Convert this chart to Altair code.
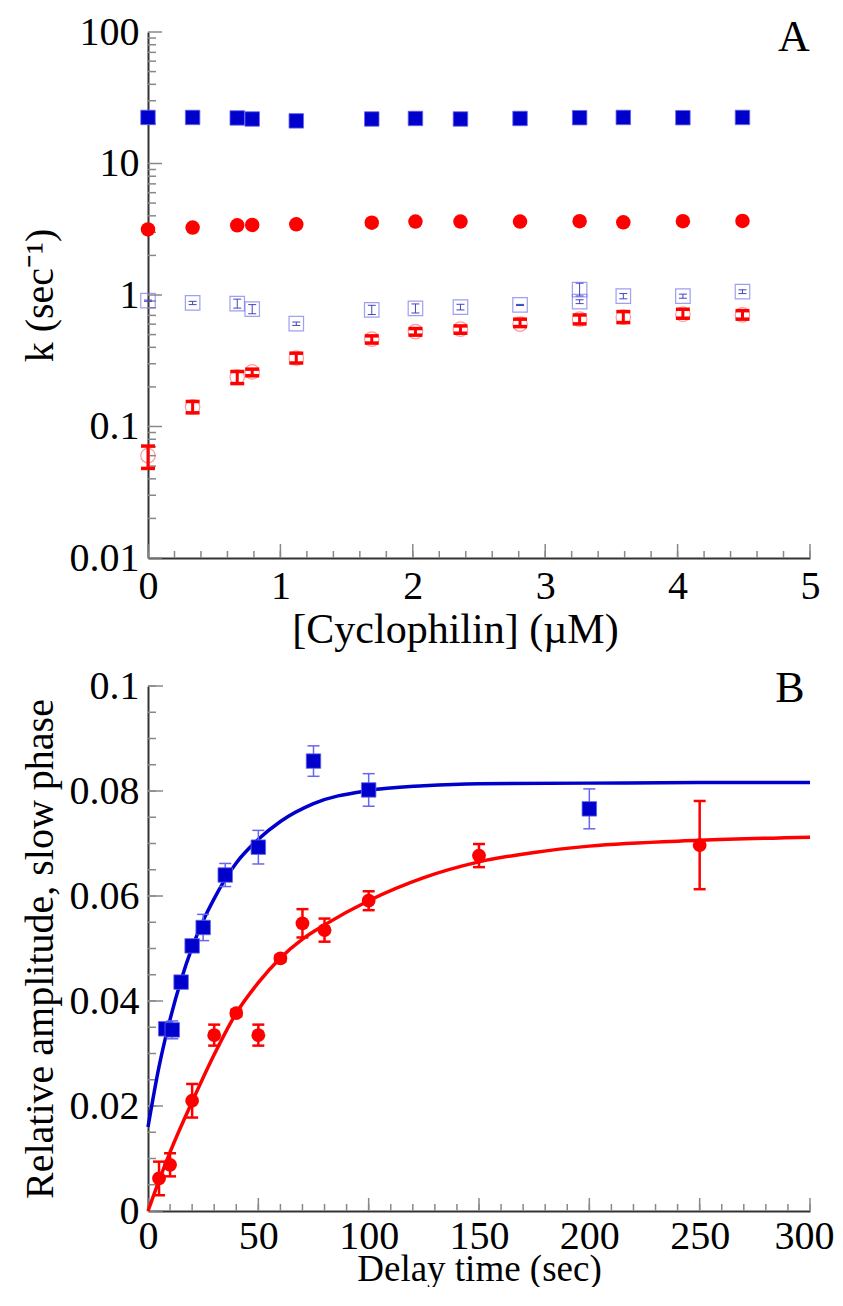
import altair as alt
import pandas as pd

# ---------------- Panel A data ----------------
cyp = [0.0, 0.337, 0.674, 0.787, 1.12, 1.69, 2.02, 2.36, 2.81, 3.26, 3.59, 4.04, 4.49]
k_fast_blue = [22.4, 22.4, 22.2, 21.8, 21.1, 21.8, 22.0, 21.8, 22.0, 22.3, 22.4, 22.3, 22.4]
k_fast_red = [3.15, 3.26, 3.39, 3.41, 3.45, 3.55, 3.62, 3.62, 3.62, 3.64, 3.57, 3.64, 3.66]

cyp_sq = [0.0, 0.337, 0.674, 0.787, 1.12, 1.69, 2.02, 2.36, 2.81, 3.26, 3.59, 4.04, 4.49, 3.26]
k_slow_blue = [0.905, 0.87, 0.86, 0.78, 0.605, 0.77, 0.79, 0.81, 0.84, 0.89, 0.98, 0.98, 1.06, 1.10]
k_slow_blue_lo = [0.895, 0.845, 0.795, 0.72, 0.587, 0.71, 0.73, 0.77, 0.832, 0.86, 0.935, 0.945, 1.025, 0.983]
k_slow_blue_hi = [0.915, 0.895, 0.93, 0.845, 0.623, 0.835, 0.855, 0.85, 0.848, 0.92, 1.025, 1.015, 1.095, 1.23]

k_slow_red = [0.060, 0.141, 0.238, 0.26, 0.331, 0.462, 0.527, 0.55, 0.60, 0.655, 0.678, 0.714, 0.705]
k_slow_red_lo = [0.048, 0.127, 0.212, 0.243, 0.304, 0.431, 0.495, 0.512, 0.575, 0.603, 0.617, 0.666, 0.655]
k_slow_red_hi = [0.071, 0.155, 0.262, 0.273, 0.361, 0.489, 0.556, 0.582, 0.655, 0.705, 0.748, 0.779, 0.76]

# ---------------- Panel B data ----------------
t_blue = [8, 11, 15, 20, 25, 35, 50, 75, 100, 200]
amp_blue = [0.0347, 0.0345, 0.0436, 0.0505, 0.0540, 0.0640, 0.0693, 0.0857, 0.0802, 0.0766]
amp_blue_err = [0.0010, 0.0017, 0.0008, 0.0008, 0.0025, 0.0022, 0.0032, 0.0029, 0.0031, 0.0038]

t_red = [5, 10, 20, 30, 40, 50, 60, 70, 80, 100, 150, 250]
amp_red = [0.0062, 0.0088, 0.0210, 0.0335, 0.0377, 0.0335, 0.0481, 0.0548, 0.0535, 0.0591, 0.0677, 0.0697]
amp_red_err = [0.0032, 0.0022, 0.0032, 0.0020, 0.0006, 0.0020, 0.0006, 0.0027, 0.0022, 0.0018, 0.0022, 0.0084]

fit_t_blue = [0, 5, 10, 15, 20, 25, 30, 35, 40, 50, 60, 75, 100, 125, 150, 200, 250, 300]
fit_blue = [0.0160, 0.0275, 0.0365, 0.0440, 0.0502, 0.0553, 0.0595, 0.0632, 0.0663, 0.0708,
            0.0742, 0.0776, 0.0801, 0.0810, 0.0814, 0.0815, 0.0816, 0.0816]
fit_t_red = [0, 5, 10, 20, 30, 40, 50, 60, 70, 80, 100, 125, 150, 175, 200, 250, 300]
fit_red = [0.0, 0.0058, 0.0112, 0.0208, 0.0298, 0.0377, 0.0435, 0.0482, 0.0518, 0.0545,
           0.0591, 0.0635, 0.0665, 0.0683, 0.0695, 0.0706, 0.0712]

# axis tick positions
a_y_major = [0.01, 0.1, 1, 10, 100]
a_y_minor = [m * 10.0 ** e for e in (-2, -1, 0, 1) for m in range(2, 10)]
a_x_major = [0, 1, 2, 3, 4, 5]
a_x_minor = [i * 0.2 for i in range(26)]
b_y_major = [0, 0.02, 0.04, 0.06, 0.08, 0.1]
b_y_minor = [i * 0.005 for i in range(21)]
b_x_major = [0, 50, 100, 150, 200, 250, 300]
b_x_minor = [i * 10 for i in range(31)]

letters = ["A", "B"]

FONT = "Liberation Serif"
W = 662
HA = 526
HB = 525
BLUE = "#0000CC"
RED = "#FF0000"
TICKC = "#888888"


def axis(values, title, orient, fmt="~g", tsize=40, lpad=9, **kw):
    return alt.Axis(values=values, format=fmt, ticks=False, grid=False, domainColor="#333333",
                    domainWidth=2, labelFont=FONT, labelFontSize=40, labelColor="black",
                    labelPadding=lpad, labelOverlap=False, labelFlush=False, title=title,
                    titleFont=FONT, titleFontSize=tsize, titleFontWeight="normal", titleColor="black",
                    titleBaseline="alphabetic", orient=orient, **kw)


# ---------------- Panel A ----------------
xsA = alt.Scale(domain=[0, 5], nice=False, zero=False)
ysA = alt.Scale(type="log", domain=[0.01, 100], nice=False)
xaxA = axis(a_x_major, "[Cyclophilin] (\u00b5M)", "bottom", tsize=42, lpad=8, titleY=84, titleX=307)
yaxA = axis(a_y_major, "k (sec\u207b\u00b9)", "left", titleX=-96)


def XA(f):
    return alt.X(f + ":Q", scale=xsA, axis=xaxA)


def YA(f):
    return alt.Y(f + ":Q", scale=ysA, axis=yaxA)


dfA_fast = pd.DataFrame({"x": cyp, "kb": k_fast_blue, "kr": k_fast_red,
                         "ks": k_slow_red, "lo": k_slow_red_lo, "hi": k_slow_red_hi})
dfA_sq = pd.DataFrame({"x": cyp_sq, "k": k_slow_blue, "lo": k_slow_blue_lo, "hi": k_slow_blue_hi})

tA_ymaj = alt.Chart(pd.DataFrame({"v": a_y_major})).mark_rule(color=TICKC, strokeWidth=1.5).encode(
    y=YA("v"), x=alt.value(0), x2=alt.value(14))
tA_ymin = alt.Chart(pd.DataFrame({"v": a_y_minor})).mark_rule(color=TICKC, strokeWidth=1.5).encode(
    y=YA("v"), x=alt.value(0), x2=alt.value(8))
tA_xmin = alt.Chart(pd.DataFrame({"v": a_x_minor})).mark_rule(color=TICKC, strokeWidth=1.5).encode(
    x=XA("v"), y=alt.value(HA), y2=alt.value(HA - 7))
tA_xmaj = alt.Chart(pd.DataFrame({"v": a_x_major})).mark_rule(color=TICKC, strokeWidth=1.5).encode(
    x=XA("v"), y=alt.value(HA), y2=alt.value(HA - 14))

base_fast = alt.Chart(dfA_fast)
red_open = base_fast.mark_point(shape="circle", size=210, filled=False, color="#FF7070",
                                strokeWidth=1.2).encode(x=XA("x"), y=YA("ks"))
red_err = base_fast.mark_rule(color=RED, strokeWidth=3).encode(x=XA("x"), y=YA("lo"), y2="hi")
red_cap_lo = base_fast.mark_rule(color=RED, strokeWidth=3.5, xOffset=-7, x2Offset=7).encode(
    x=XA("x"), x2="x", y=YA("lo"))
red_cap_hi = base_fast.mark_rule(color=RED, strokeWidth=3.5, xOffset=-7, x2Offset=7).encode(
    x=XA("x"), x2="x", y=YA("hi"))

base_sq = alt.Chart(dfA_sq)
sq_open = base_sq.mark_point(shape="square", size=210, filled=False, color="#7777EE",
                             strokeWidth=1.2).encode(x=XA("x"), y=YA("k"))
sq_err = base_sq.mark_rule(color="#4444BB", strokeWidth=1).encode(x=XA("x"), y=YA("lo"), y2="hi")
sq_cap_lo = base_sq.mark_rule(color="#4444BB", strokeWidth=1, xOffset=-4, x2Offset=4).encode(
    x=XA("x"), x2="x", y=YA("lo"))
sq_cap_hi = base_sq.mark_rule(color="#4444BB", strokeWidth=1, xOffset=-4, x2Offset=4).encode(
    x=XA("x"), x2="x", y=YA("hi"))

red_fill = base_fast.mark_point(shape="circle", size=210, filled=True, color=RED, opacity=1).encode(
    x=XA("x"), y=YA("kr"))
blue_fill = base_fast.mark_point(shape="square", size=210, filled=True, color=BLUE, opacity=1,
                                 stroke="#6666EE", strokeWidth=0.8).encode(x=XA("x"), y=YA("kb"))

letterA = alt.Chart(pd.DataFrame({"l": [letters[0]]})).mark_text(
    font=FONT, fontSize=44, align="center", baseline="alphabetic", color="black").encode(
    text="l:N", x=alt.value(646), y=alt.value(19))

panelA = alt.layer(tA_ymaj, tA_ymin, tA_xmin, tA_xmaj, red_open, red_err, red_cap_lo, red_cap_hi,
                   sq_open, sq_err, sq_cap_lo, sq_cap_hi, red_fill, blue_fill, letterA).properties(
    width=W, height=HA)

# ---------------- Panel B ----------------
xsB = alt.Scale(domain=[0, 300], nice=False, zero=False)
ysB = alt.Scale(domain=[0, 0.1], nice=False)
xaxB = axis(b_x_major, "Delay time (sec)", "bottom", fmt="d", tsize=37, lpad=5, titleY=69,
            labelOffset={"expr": "datum.value == 300 ? -6 : 0"})
yaxB = axis(b_y_major, "Relative amplitude, slow phase", "left", titleX=-96)


def XB(f):
    return alt.X(f + ":Q", scale=xsB, axis=xaxB)


def YB(f):
    return alt.Y(f + ":Q", scale=ysB, axis=yaxB)


dfB_blue = pd.DataFrame({"t": t_blue, "a": amp_blue,
                         "lo": [a - e for a, e in zip(amp_blue, amp_blue_err)],
                         "hi": [a + e for a, e in zip(amp_blue, amp_blue_err)]})
dfB_red = pd.DataFrame({"t": t_red, "a": amp_red,
                        "lo": [a - e for a, e in zip(amp_red, amp_red_err)],
                        "hi": [a + e for a, e in zip(amp_red, amp_red_err)]})
dfB_fitb = pd.DataFrame({"t": fit_t_blue, "a": fit_blue})
dfB_fitr = pd.DataFrame({"t": fit_t_red, "a": fit_red})

tB_ymaj = alt.Chart(pd.DataFrame({"v": b_y_major})).mark_rule(color=TICKC, strokeWidth=1.5).encode(
    y=YB("v"), x=alt.value(0), x2=alt.value(15))
tB_ymin = alt.Chart(pd.DataFrame({"v": b_y_minor})).mark_rule(color=TICKC, strokeWidth=1.5).encode(
    y=YB("v"), x=alt.value(0), x2=alt.value(8))
tB_xmin = alt.Chart(pd.DataFrame({"v": b_x_minor})).mark_rule(color=TICKC, strokeWidth=1.5).encode(
    x=XB("v"), y=alt.value(HB), y2=alt.value(HB - 7))
tB_xmaj = alt.Chart(pd.DataFrame({"v": b_x_major})).mark_rule(color=TICKC, strokeWidth=1.5).encode(
    x=XB("v"), y=alt.value(HB), y2=alt.value(HB - 13))

fitb = alt.Chart(dfB_fitb).mark_line(color=BLUE, strokeWidth=3.5, interpolate="monotone").encode(
    x=XB("t"), y=YB("a"))
fitr = alt.Chart(dfB_fitr).mark_line(color=RED, strokeWidth=3.5, interpolate="monotone").encode(
    x=XB("t"), y=YB("a"))

bb = alt.Chart(dfB_blue)
b_err = bb.mark_rule(color="#6666EE", strokeWidth=1.5).encode(x=XB("t"), y=YB("lo"), y2="hi")
b_cap1 = bb.mark_rule(color="#6666EE", strokeWidth=1.5, xOffset=-6, x2Offset=6).encode(
    x=XB("t"), x2="t", y=YB("lo"))
b_cap2 = bb.mark_rule(color="#6666EE", strokeWidth=1.5, xOffset=-6, x2Offset=6).encode(
    x=XB("t"), x2="t", y=YB("hi"))
b_pts = bb.mark_point(shape="square", size=210, filled=True, color=BLUE, opacity=1,
                      stroke="#6666EE", strokeWidth=0.8).encode(x=XB("t"), y=YB("a"))

rb = alt.Chart(dfB_red)
r_err = rb.mark_rule(color=RED, strokeWidth=2.5).encode(x=XB("t"), y=YB("lo"), y2="hi")
r_cap1 = rb.mark_rule(color=RED, strokeWidth=2.5, xOffset=-6, x2Offset=6).encode(
    x=XB("t"), x2="t", y=YB("lo"))
r_cap2 = rb.mark_rule(color=RED, strokeWidth=2.5, xOffset=-6, x2Offset=6).encode(
    x=XB("t"), x2="t", y=YB("hi"))
r_pts = rb.mark_point(shape="circle", size=190, filled=True, color=RED, opacity=1).encode(
    x=XB("t"), y=YB("a"))

letterB = alt.Chart(pd.DataFrame({"l": [letters[1]]})).mark_text(
    font=FONT, fontSize=44, align="center", baseline="alphabetic", color="black").encode(
    text="l:N", x=alt.value(642), y=alt.value(16))

panelB = alt.layer(tB_ymaj, tB_ymin, tB_xmin, tB_xmaj, fitb, fitr, b_err, b_cap1, b_cap2, b_pts,
                   r_err, r_cap1, r_cap2, r_pts, letterB).properties(width=W, height=HB)

chart = alt.vconcat(panelA, panelB, spacing=128, bounds="flush").properties(
    padding={"left": 11, "top": 4, "right": 0, "bottom": 0},
    background="white",
).configure_view(stroke=None)

chart.save("out.html", embed_options={"renderer": "svg", "actions": False})
